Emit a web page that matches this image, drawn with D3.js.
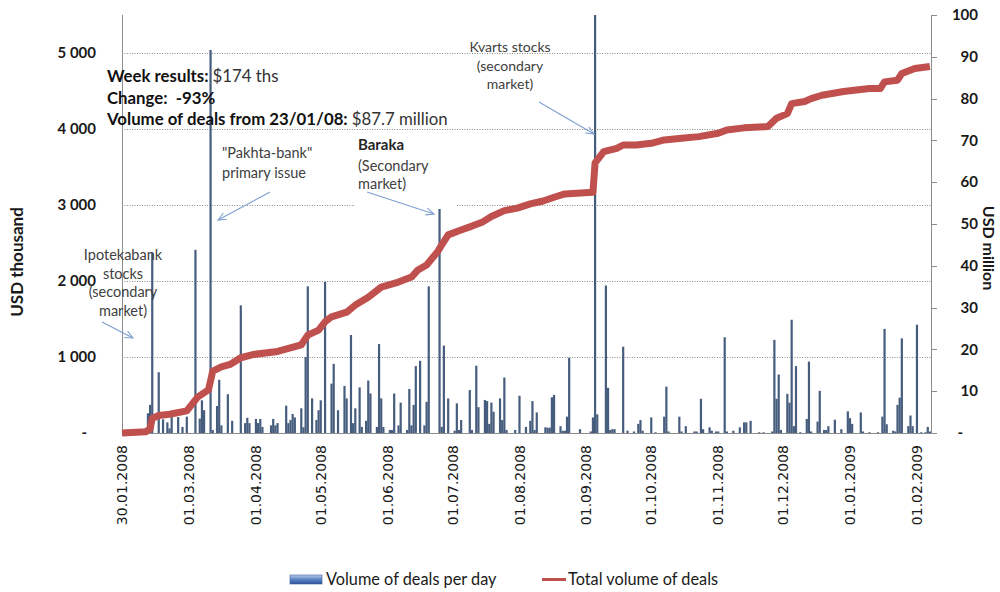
<!DOCTYPE html>
<html>
<head>
<meta charset="utf-8">
<script src="https://cdn.jsdelivr.net/npm/d3@7"></script>
<style>
  html, body { margin: 0; padding: 0; background: #fff; }
  svg { display: block; }
</style>
</head>
<body>
<svg id="chart" width="1000" height="592"></svg>
<script>
// Daily volume of deals, USD thousand
const dealDates = [
  "2008-02-11","2008-02-12","2008-02-13","2008-02-16","2008-02-18","2008-02-20","2008-02-21","2008-02-22",
  "2008-02-25","2008-02-27","2008-02-29","2008-03-04","2008-03-06","2008-03-07","2008-03-08","2008-03-11",
  "2008-03-12","2008-03-14","2008-03-15","2008-03-16","2008-03-19","2008-03-21","2008-03-25","2008-03-27",
  "2008-03-28","2008-03-29","2008-04-01","2008-04-02","2008-04-03","2008-04-04","2008-04-08","2008-04-09",
  "2008-04-10","2008-04-11","2008-04-15","2008-04-16","2008-04-17","2008-04-18","2008-04-19","2008-04-22",
  "2008-04-23","2008-04-24","2008-04-25","2008-04-27","2008-04-29","2008-04-30","2008-05-01","2008-05-03",
  "2008-05-06","2008-05-07","2008-05-09","2008-05-12","2008-05-13","2008-05-15","2008-05-16","2008-05-17",
  "2008-05-19","2008-05-20","2008-05-22","2008-05-23","2008-05-24","2008-05-27","2008-05-28","2008-05-29",
  "2008-05-30","2008-06-02","2008-06-03","2008-06-04","2008-06-06","2008-06-07","2008-06-10","2008-06-11",
  "2008-06-12","2008-06-13","2008-06-14","2008-06-16","2008-06-18","2008-06-19","2008-06-20","2008-06-25",
  "2008-06-26","2008-06-27","2008-06-29","2008-07-02","2008-07-03","2008-07-04","2008-07-05","2008-07-09",
  "2008-07-10","2008-07-12","2008-07-13","2008-07-16","2008-07-17","2008-07-18","2008-07-19","2008-07-20",
  "2008-07-23","2008-07-24","2008-07-25","2008-07-26","2008-07-30","2008-08-01","2008-08-04","2008-08-06",
  "2008-08-07","2008-08-08","2008-08-09","2008-08-13","2008-08-14","2008-08-15","2008-08-16","2008-08-17",
  "2008-08-20","2008-08-21","2008-08-22","2008-08-23","2008-08-24","2008-08-29","2008-09-03","2008-09-04",
  "2008-09-05","2008-09-06","2008-09-10","2008-09-11","2008-09-12","2008-09-13","2008-09-14","2008-09-18",
  "2008-09-20","2008-09-23","2008-09-25","2008-09-26","2008-09-27","2008-10-01","2008-10-03","2008-10-07",
  "2008-10-08","2008-10-09","2008-10-14","2008-10-15","2008-10-17","2008-10-21","2008-10-22","2008-10-24",
  "2008-10-25","2008-10-28","2008-10-29","2008-10-31","2008-11-01","2008-11-04","2008-11-05","2008-11-08",
  "2008-11-11","2008-11-13","2008-11-14","2008-11-16","2008-11-20","2008-11-22","2008-11-26","2008-11-27",
  "2008-11-28","2008-11-29","2008-11-30","2008-12-03","2008-12-04","2008-12-05","2008-12-06","2008-12-07",
  "2008-12-09","2008-12-12","2008-12-13","2008-12-14","2008-12-17","2008-12-18","2008-12-20","2008-12-21",
  "2008-12-22","2008-12-25","2008-12-28","2008-12-31","2009-01-01","2009-01-02","2009-01-06","2009-01-07",
  "2009-01-10","2009-01-14","2009-01-16","2009-01-17","2009-01-18","2009-01-21","2009-01-22","2009-01-23",
  "2009-01-24","2009-01-25","2009-01-28","2009-01-29","2009-01-30","2009-02-01","2009-02-03","2009-02-05",
  "2009-02-06","2009-02-07"
];
const dealVolumes = [
  260, 370, 2370, 800, 180, 140, 60, 210,
  210, 80, 215, 2410, 190, 430, 300, 5040,
  40, 355, 700, 100, 510, 160, 1680, 130,
  200, 130, 185, 130, 185, 80, 100, 185,
  100, 130, 360, 130, 170, 250, 205, 325,
  75, 1000, 1930, 455, 170, 300, 430, 1990,
  650, 910, 300, 620, 455, 1290, 130, 325,
  600, 80, 160, 690, 520, 80, 1170, 455,
  80, 40, 40, 520, 100, 400, 40, 580,
  100, 370, 880, 950, 100, 410, 1930, 2960,
  80, 1150, 455, 30, 390, 40, 170, 565,
  40, 885, 340, 435, 420, 120, 400, 280,
  455, 170, 730, 40, 40, 490, 80, 160,
  420, 40, 270, 75, 70, 70, 470, 500,
  90, 30, 30, 215, 990, 50, 20, 205,
  7900, 245, 1940, 595, 40, 50, 50, 1135,
  30, 20, 120, 170, 30, 205, 10, 215,
  610, 20, 215, 20, 90, 20, 20, 450,
  50, 75, 30, 20, 20, 1260, 20, 30,
  75, 140, 140, 160, 10, 10, 20, 1225,
  450, 770, 40, 515, 400, 1490, 90, 880,
  10, 185, 940, 20, 150, 555, 40, 40,
  90, 175, 50, 285, 195, 120, 270, 20,
  10, 10, 215, 1370, 115, 30, 20, 370,
  465, 1245, 90, 230, 90, 1425, 10, 10,
  80, 20
];

// Running total of deals, USD million
const totalDates = [
  "2008-01-30","2008-02-10","2008-02-12","2008-02-13","2008-02-16","2008-02-21","2008-02-29","2008-03-05",
  "2008-03-10","2008-03-11","2008-03-12","2008-03-16","2008-03-20","2008-03-25","2008-03-31","2008-04-11",
  "2008-04-22","2008-04-25","2008-04-30","2008-05-03","2008-05-06","2008-05-13","2008-05-17","2008-05-23",
  "2008-05-29","2008-06-06","2008-06-12","2008-06-15","2008-06-19","2008-06-24","2008-06-26","2008-06-29",
  "2008-07-04","2008-07-10","2008-07-15","2008-07-19","2008-07-25","2008-07-31","2008-08-06","2008-08-12",
  "2008-08-17","2008-08-22","2008-09-04","2008-09-05","2008-09-09","2008-09-15","2008-09-18","2008-09-24",
  "2008-10-01","2008-10-07","2008-10-15","2008-10-23","2008-11-01","2008-11-05","2008-11-13","2008-11-24",
  "2008-11-28","2008-12-03","2008-12-05","2008-12-11","2008-12-14","2008-12-19","2008-12-29","2009-01-10",
  "2009-01-15","2009-01-17","2009-01-23","2009-01-25","2009-01-31","2009-02-07"
];
const totalValues = [
  0, 0.3, 1.0, 3.5, 4.2, 4.5, 5.3, 8.6,
  10.3, 12.5, 14.8, 15.8, 16.4, 18.0, 18.8, 19.5,
  21.1, 23.4, 24.6, 26.6, 27.8, 28.9, 30.6, 32.5,
  34.9, 36.1, 37.3, 39.0, 40.2, 43.3, 45.0, 47.4,
  48.4, 49.5, 50.5, 51.8, 53.2, 53.8, 54.8, 55.5,
  56.4, 57.2, 57.6, 64.6, 67.3, 68.1, 68.9, 68.9,
  69.3, 70.1, 70.5, 70.9, 71.7, 72.5, 73.0, 73.3,
  75.3, 76.4, 78.8, 79.3, 80.0, 80.8, 81.7, 82.4,
  82.4, 84.0, 84.4, 86.0, 87.2, 87.7
];

const xTickLabels = [
  "30.01.2008","01.03.2008","01.04.2008","01.05.2008","01.06.2008","01.07.2008","01.08.2008",
  "01.09.2008","01.10.2008","01.11.2008","01.12.2008","01.01.2009","01.02.2009"
];
const leftTicks = [0, 1000, 2000, 3000, 4000, 5000];
const rightTicks = [0, 10, 20, 30, 40, 50, 60, 70, 80, 90, 100];

const parseIso = d3.timeParse("%Y-%m-%d");
const parseDot = d3.timeParse("%d.%m.%Y");

const svg = d3.select("#chart");
const plot = { left: 122, right: 931, top: 15, bottom: 433 };

const x = d3.scaleTime()
  .domain([new Date(2008, 0, 30), new Date(2009, 1, 7, 12)])
  .range([plot.left, plot.right]);
const yLeft = d3.scaleLinear().domain([0, 5500]).range([plot.bottom, plot.top]);
const yRight = d3.scaleLinear().domain([0, 100]).range([plot.bottom, plot.top]);

const bars = dealDates.map((d, i) => ({ date: parseIso(d), value: dealVolumes[i] }));
const totals = totalDates.map((d, i) => ({ date: parseIso(d), value: totalValues[i] }));

const defs = svg.append("defs");
defs.append("clipPath").attr("id", "plotClip")
  .append("rect")
  .attr("x", plot.left).attr("y", plot.top)
  .attr("width", plot.right - plot.left).attr("height", plot.bottom - plot.top);

const legendGrad = defs.append("linearGradient").attr("id", "legendBlue")
  .attr("x1", 0).attr("y1", 0).attr("x2", 0).attr("y2", 1);
legendGrad.append("stop").attr("offset", "0%").attr("stop-color", "#b9cdea");
legendGrad.append("stop").attr("offset", "50%").attr("stop-color", "#5b84c4");
legendGrad.append("stop").attr("offset", "100%").attr("stop-color", "#2f5597");

// Horizontal dotted gridlines on the left scale
svg.append("g")
  .selectAll("line")
  .data(leftTicks.filter(t => t > 0))
  .join("line")
  .attr("x1", plot.left).attr("x2", plot.right)
  .attr("y1", d => Math.round(yLeft(d)) + 0.5).attr("y2", d => Math.round(yLeft(d)) + 0.5)
  .attr("stroke", "#8c8c8c").attr("stroke-width", 1).attr("stroke-dasharray", "1,1.5");

// Daily volume bars
svg.append("g").attr("clip-path", "url(#plotClip)")
  .selectAll("rect")
  .data(bars)
  .join("rect")
  .attr("x", d => x(d.date) - 1.1)
  .attr("width", 2.2)
  .attr("y", d => yLeft(d.value))
  .attr("height", d => plot.bottom - yLeft(d.value))
  .attr("fill", "#475d7e");

// Axis lines
const axisColor = "#8c8c8c";
svg.append("line").attr("x1", plot.left + 0.5).attr("x2", plot.left + 0.5)
  .attr("y1", plot.top).attr("y2", plot.bottom).attr("stroke", axisColor);
svg.append("line").attr("x1", plot.right + 0.5).attr("x2", plot.right + 0.5)
  .attr("y1", plot.top).attr("y2", plot.bottom).attr("stroke", axisColor);
svg.append("line").attr("x1", plot.left).attr("x2", plot.right + 1)
  .attr("y1", plot.bottom + 0.5).attr("y2", plot.bottom + 0.5).attr("stroke", axisColor);

// Cumulative total line
const line = d3.line().x(d => x(d.date)).y(d => yRight(d.value));
svg.append("path")
  .datum(totals)
  .attr("d", line)
  .attr("fill", "none")
  .attr("stroke", "#c0504d")
  .attr("stroke-width", 7)
  .attr("stroke-linejoin", "round")
  .attr("stroke-linecap", "butt");

// Left axis labels (USD thousand)
const numFmt = v => v === 0 ? "-" : d3.format(",")(v).replace(",", " ");
svg.append("g")
  .selectAll("text")
  .data(leftTicks)
  .join("text")
  .attr("x", d => d === 0 ? 87 : 96)
  .attr("y", d => yLeft(d))
  .attr("dy", "0.35em")
  .attr("text-anchor", "end")
  .attr("font-family", "Lato, 'Open Sans', sans-serif")
  .attr("font-weight", "bold")
  .attr("font-size", 15)
  .attr("fill", "#1a1a1a")
  .text(numFmt);

// Right axis ticks and labels (USD million)
svg.append("g")
  .selectAll("line")
  .data(rightTicks)
  .join("line")
  .attr("x1", plot.right).attr("x2", plot.right + 6)
  .attr("y1", d => Math.round(yRight(d)) + 0.5).attr("y2", d => Math.round(yRight(d)) + 0.5)
  .attr("stroke", axisColor);
svg.append("g")
  .selectAll("text")
  .data(rightTicks)
  .join("text")
  .attr("x", d => d === 0 ? 963 : 978)
  .attr("y", d => yRight(d))
  .attr("dy", "0.35em")
  .attr("text-anchor", "end")
  .attr("font-family", "Lato, 'Open Sans', sans-serif")
  .attr("font-weight", "bold")
  .attr("font-size", 15)
  .attr("fill", "#1a1a1a")
  .text(d => d === 0 ? "-" : String(d));

// Date labels on the x axis
svg.append("g")
  .selectAll("text")
  .data(xTickLabels)
  .join("text")
  .attr("transform", d => `translate(${x(parseDot(d))},445) rotate(-90)`)
  .attr("dy", "0.36em")
  .attr("text-anchor", "end")
  .attr("font-family", "'DejaVu Sans', Verdana, sans-serif")
  .attr("font-size", 14)
  .attr("fill", "#1a1a1a")
  .text(d => d);

// Axis titles
svg.append("text")
  .attr("transform", "translate(23,262) rotate(-90)")
  .attr("text-anchor", "middle")
  .attr("font-family", "Lato, 'Open Sans', sans-serif")
  .attr("font-weight", "bold").attr("font-size", 17).attr("fill", "#1a1a1a")
  .text("USD thousand");
svg.append("text")
  .attr("transform", "translate(983,248) rotate(90)")
  .attr("text-anchor", "middle")
  .attr("font-family", "Lato, 'Open Sans', sans-serif")
  .attr("font-weight", "bold").attr("font-size", 16).attr("fill", "#1a1a1a")
  .text("USD million");

// Summary block
const summary = svg.append("g")
  .attr("font-family", "Lato, 'Open Sans', sans-serif")
  .attr("font-size", 16.8);
const summaryLines = [
  { bold: "Week results: ", rest: "$174 ths", y: 82 },
  { bold: "Change:  -93%", rest: "", y: 104 },
  { bold: "Volume of deals from 23/01/08: ", rest: "$87.7 million", y: 125 }
];
summaryLines.forEach(l => {
  const t = summary.append("text").attr("x", 107).attr("y", l.y).attr("xml:space", "preserve");
  t.append("tspan").attr("font-weight", "bold").attr("fill", "#111").text(l.bold);
  if (l.rest) t.append("tspan").attr("fill", "#333").text(l.rest);
});

// Callouts
const calloutFont = "Lato, 'Open Sans', sans-serif";
const arrowColor = "#7f9fd0";
defs.append("marker").attr("id", "openArrow")
  .attr("viewBox", "0 0 10 10").attr("refX", 9).attr("refY", 5)
  .attr("markerWidth", 9).attr("markerHeight", 9).attr("markerUnits", "userSpaceOnUse")
  .attr("orient", "auto")
  .append("path").attr("d", "M0,1 L9,5 L0,9")
  .attr("fill", "none").attr("stroke", arrowColor).attr("stroke-width", 1.2);

// White box behind the Baraka callout
svg.append("rect").attr("x", 355).attr("y", 135).attr("width", 102).attr("height", 74).attr("fill", "#fff");

function callout(lines, xPos, anchor, ys, size, boldFirst) {
  const g = svg.append("g").attr("font-family", calloutFont).attr("font-size", size).attr("fill", "#404040");
  lines.forEach((s, i) => {
    g.append("text").attr("x", xPos).attr("y", ys[i]).attr("text-anchor", anchor)
      .attr("font-weight", boldFirst && i === 0 ? "bold" : "normal")
      .attr("font-size", boldFirst && i === 0 ? size + 0.5 : size)
      .attr("fill", boldFirst && i === 0 ? "#262626" : "#404040")
      .text(s);
  });
}
callout(["Ipotekabank", "stocks", "(secondary", "market)"], 123, "middle", [260, 279, 297, 316], 14.5, false);
callout(["\"Pakhta-bank\"", "primary issue"], 222, "start", [158, 178], 14.5, false);
callout(["Baraka", "(Secondary", "market)"], 358, "start", [150, 171, 189], 14.5, true);
callout(["Kvarts stocks", "(secondary", "market)"], 510, "middle", [52, 71, 89], 14, false);

const arrows = [
  [102, 322, 133, 338],
  [270, 192, 218, 220],
  [367, 192, 434, 214],
  [539, 102, 594, 134]
];
svg.append("g").selectAll("line").data(arrows).join("line")
  .attr("x1", d => d[0]).attr("y1", d => d[1]).attr("x2", d => d[2]).attr("y2", d => d[3])
  .attr("stroke", arrowColor).attr("stroke-width", 1.1)
  .attr("marker-end", "url(#openArrow)");

// Legend
const legend = svg.append("g").attr("font-family", calloutFont).attr("font-size", 16.3).attr("fill", "#1a1a1a");
legend.append("rect").attr("x", 290).attr("y", 575).attr("width", 32).attr("height", 9)
  .attr("fill", "url(#legendBlue)").attr("stroke", "#3a5f9a").attr("stroke-width", 0.6);
legend.append("text").attr("x", 326).attr("y", 585).text("Volume of deals per day");
legend.append("line").attr("x1", 542).attr("x2", 566).attr("y1", 579.5).attr("y2", 579.5)
  .attr("stroke", "#c0504d").attr("stroke-width", 3);
legend.append("text").attr("x", 568).attr("y", 585).text("Total volume of deals");
</script>
</body>
</html>
